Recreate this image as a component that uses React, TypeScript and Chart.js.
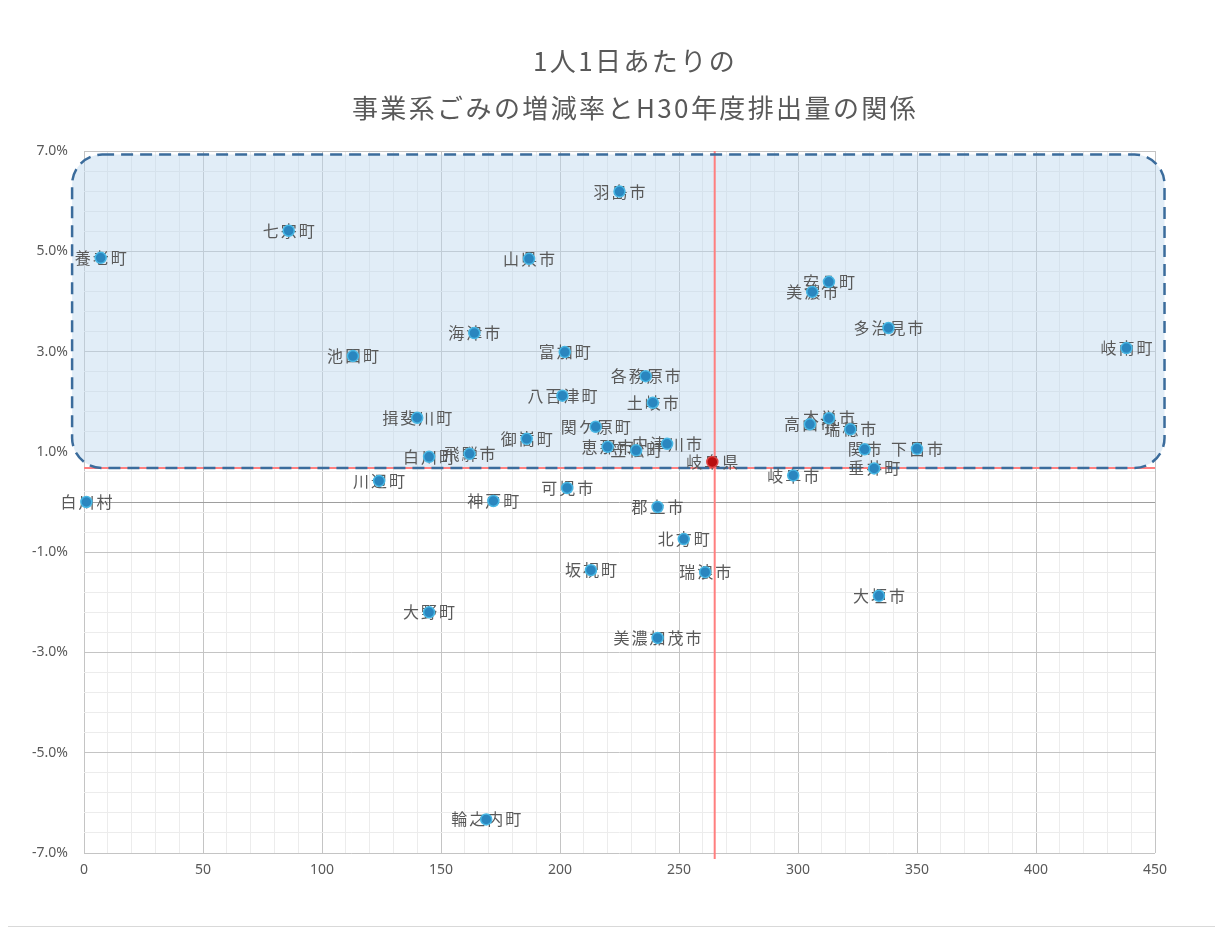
import React, { useEffect, useRef } from 'react';
import { Chart, registerables } from 'chart.js';

Chart.register(...registerables);

// Chart title (two lines)
const TITLE_LINES = ['1人1日あたりの', '事業系ごみの増減率とH30年度排出量の関係'];

// Municipalities: H30 business-waste discharge (x) and rate of change in % (y)
const names = [
  '羽島市', '七宗町', '養老町', '山県市', '安八町', '美濃市', '多治見市', '岐南町', '海津市', '池田町',
  '富加町', '各務原市', '八百津町', '土岐市', '揖斐川町', '関ケ原町', '御嵩町', '恵那市', '笠松町', '中津川市',
  '白川町', '飛騨市', '高山市', '本巣市', '瑞穂市', '関市', '下呂市', '垂井町', '岐阜市', '川辺町',
  '白川村', '神戸町', '可児市', '郡上市', '北方町', '坂祝町', '瑞浪市', '大垣市', '大野町', '美濃加茂市',
  '輪之内町',
];
const amounts = [
  225, 86, 7, 187, 313, 306, 338, 438, 164, 113,
  202, 236, 201, 239, 140, 215, 186, 220, 232, 245,
  145, 162, 305, 313, 322, 328, 350, 332, 298, 124,
  1, 172, 203, 241, 252, 213, 261, 334, 145, 241,
  169,
];
const rates = [
  6.19, 5.41, 4.87, 4.85, 4.39, 4.19, 3.47, 3.07, 3.37, 2.91,
  2.99, 2.51, 2.12, 1.98, 1.68, 1.5, 1.26, 1.1, 1.03, 1.16,
  0.9, 0.96, 1.55, 1.67, 1.45, 1.05, 1.06, 0.67, 0.53, 0.42,
  0.0, 0.02, 0.28, -0.1, -0.74, -1.36, -1.4, -1.87, -2.2, -2.71,
  -6.33,
];

// Prefecture-wide value
const prefName = ['岐阜県'];
const prefAmount = [264];
const prefRate = [0.8];

// Reference lines (prefecture level)
const refLineX = [265];
const refLineY = [0.68];

// Highlighted region (increase group), in data units
const highlightX = [-5, 454];
const highlightY = [0.68, 6.93];

// Axis ranges and labelled ticks
const xRange = [0, 450];
const yRange = [-7, 7];
const xTickLabels = [0, 50, 100, 150, 200, 250, 300, 350, 400, 450];
const yTickLabels = [-7, -5, -3, -1, 1, 3, 5, 7];

const xGridValues: number[] = [];
for (let v = xRange[0]; v <= xRange[1]; v += 10) xGridValues.push(v);
const yGridValues: number[] = [];
for (let i = 0; i <= 35; i++) yGridValues.push(Math.round((yRange[0] + 0.4 * i) * 10) / 10);
yGridValues.push(0);
yGridValues.sort((a, b) => a - b);

const TEXT_GRAY = '#595959';
const CJK = '"Noto Sans CJK JP", "Noto Sans", sans-serif';

function roundedRect(ctx: CanvasRenderingContext2D, x: number, y: number, w: number, h: number, r: number) {
  ctx.beginPath();
  ctx.moveTo(x + r, y);
  ctx.lineTo(x + w - r, y);
  ctx.arcTo(x + w, y, x + w, y + r, r);
  ctx.lineTo(x + w, y + h - r);
  ctx.arcTo(x + w, y + h, x + w - r, y + h, r);
  ctx.lineTo(x + r, y + h);
  ctx.arcTo(x, y + h, x, y + h - r, r);
  ctx.lineTo(x, y + r);
  ctx.arcTo(x, y, x + r, y, r);
  ctx.closePath();
}

const overlayPlugin = {
  id: 'overlay',
  beforeDatasetsDraw(chart: any) {
    const { ctx, scales } = chart;
    const xs = scales.x;
    const ys = scales.y;

    // highlighted region fill
    const bx0 = xs.getPixelForValue(highlightX[0]);
    const bx1 = xs.getPixelForValue(highlightX[1]);
    const by0 = ys.getPixelForValue(highlightY[1]);
    const by1 = ys.getPixelForValue(highlightY[0]);
    ctx.save();
    roundedRect(ctx, bx0, by0, bx1 - bx0, by1 - by0, 30);
    ctx.fillStyle = 'rgba(189, 215, 238, 0.45)';
    ctx.fill();
    ctx.restore();

    // reference lines
    ctx.save();
    ctx.strokeStyle = '#ff7f7f';
    ctx.lineWidth = 2;
    const rx = xs.getPixelForValue(refLineX[0]);
    ctx.beginPath();
    ctx.moveTo(rx, ys.getPixelForValue(yRange[1]));
    ctx.lineTo(rx, ys.getPixelForValue(yRange[0] - 0.12));
    ctx.stroke();
    const ry = ys.getPixelForValue(refLineY[0]);
    ctx.beginPath();
    ctx.moveTo(xs.getPixelForValue(xRange[0]), ry);
    ctx.lineTo(xs.getPixelForValue(xRange[1]), ry);
    ctx.stroke();
    ctx.restore();

    // dashed outline of highlighted region
    ctx.save();
    roundedRect(ctx, bx0, by0, bx1 - bx0, by1 - by0, 30);
    ctx.setLineDash([12, 7]);
    ctx.lineWidth = 2.5;
    ctx.strokeStyle = '#3b6c9c';
    ctx.stroke();
    ctx.restore();

    // data labels centred on the points
    ctx.save();
    ctx.font = `16px ${CJK}`;
    (ctx as any).letterSpacing = '2px';
    ctx.fillStyle = TEXT_GRAY;
    ctx.textAlign = 'center';
    ctx.textBaseline = 'middle';
    chart.data.datasets.forEach((ds: any, di: number) => {
      const meta = chart.getDatasetMeta(di);
      meta.data.forEach((el: any, i: number) => {
        const label = ds.labels[i];
        ctx.fillText(label, el.x + 1, el.y);
      });
    });
    ctx.restore();
  },
  afterDraw(chart: any) {
    const { ctx } = chart;
    ctx.save();
    ctx.font = `26px ${CJK}`;
    (ctx as any).letterSpacing = '2.4px';
    ctx.fillStyle = TEXT_GRAY;
    ctx.textAlign = 'center';
    ctx.textBaseline = 'middle';
    ctx.fillText(TITLE_LINES[0], 628, 54);
    ctx.fillText(TITLE_LINES[1], 628, 101);
    ctx.restore();
  },
};

function isMajorX(v: number) {
  return xTickLabels.includes(v);
}
function isMajorY(v: number) {
  return yTickLabels.some((t) => Math.abs(t - v) < 1e-9);
}

export default function App() {
  const canvasRef = useRef<HTMLCanvasElement>(null);

  useEffect(() => {
    const canvas = canvasRef.current;
    if (!canvas) return;
    const chart = new Chart(canvas, {
      type: 'scatter',
      data: {
        datasets: [
          {
            label: '市町村',
            labels: names,
            data: amounts.map((x, i) => ({ x, y: rates[i] })),
            backgroundColor: '#2a86bf',
            borderColor: '#48b7e4',
            borderWidth: 1.5,
            pointRadius: 5.5,
            clip: false,
          } as any,
          {
            label: prefName[0],
            labels: prefName,
            data: prefAmount.map((x, i) => ({ x, y: prefRate[i] })),
            backgroundColor: '#b80f0f',
            borderColor: '#e04848',
            borderWidth: 1.5,
            pointRadius: 5.5,
            clip: false,
          } as any,
        ],
      },
      options: {
        responsive: false,
        animation: false,
        events: [],
        layout: { padding: { top: 144, right: 61, bottom: 33, left: 0 } },
        plugins: {
          legend: { display: false },
          tooltip: { enabled: false },
          title: { display: false },
        },
        scales: {
          x: {
            type: 'linear',
            min: xRange[0],
            max: xRange[1],
            afterBuildTicks: (axis: any) => {
              axis.ticks = xGridValues.map((value) => ({ value }));
            },
            afterFit: (axis: any) => {
              axis.height = 40;
            },
            border: { display: false },
            grid: {
              drawTicks: false,
              lineWidth: 1,
              color: (c: any) => (isMajorX(c.tick.value) ? '#c4c4c4' : '#ececec'),
            },
            ticks: {
              autoSkip: false,
              maxRotation: 0,
              minRotation: 0,
              padding: 9,
              color: TEXT_GRAY,
              font: { family: '"Noto Sans", sans-serif', size: 14 },
              callback: (v: any) => (isMajorX(Number(v)) ? String(v) : ''),
            },
          },
          y: {
            type: 'linear',
            min: yRange[0],
            max: yRange[1],
            afterBuildTicks: (axis: any) => {
              axis.ticks = yGridValues.map((value) => ({ value }));
            },
            afterFit: (axis: any) => {
              axis.width = 77;
            },
            border: { display: false },
            grid: {
              drawTicks: false,
              lineWidth: 1,
              color: (c: any) => {
                const v = c.tick.value;
                if (v === 0) return '#9e9e9e';
                return isMajorY(v) ? '#c4c4c4' : '#ececec';
              },
            },
            ticks: {
              autoSkip: false,
              padding: 16,
              color: TEXT_GRAY,
              font: { family: '"Noto Sans", sans-serif', size: 14 },
              callback: (v: any) => (isMajorY(Number(v)) ? Number(v).toFixed(1) + '%' : ''),
            },
          },
        },
      } as any,
      plugins: [overlayPlugin],
    });
    return () => chart.destroy();
  }, []);

  return (
    <div
      style={{
        position: 'relative',
        marginLeft: -2,
        marginTop: -2,
        width: 1209,
        height: 919,
        border: '1px solid #d9d9d9',
        background: '#ffffff',
      }}
    >
      <canvas ref={canvasRef} width={1209} height={919} style={{ display: 'block' }} />
    </div>
  );
}
